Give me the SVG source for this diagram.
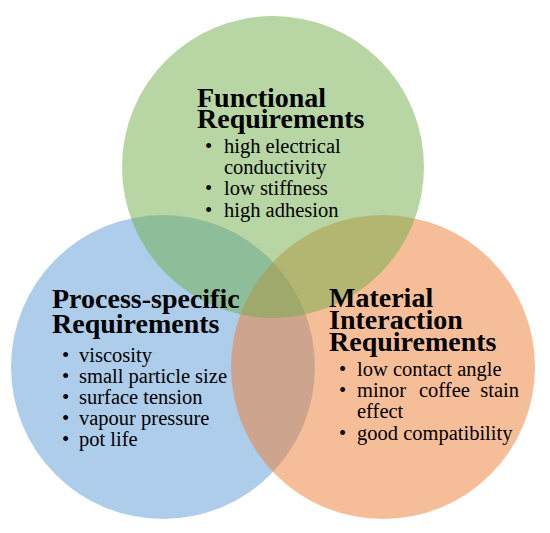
<svg xmlns="http://www.w3.org/2000/svg" width="550" height="533" viewBox="0 0 550 533">
<style>
.c{opacity:0.5}
.t{font-family:"Liberation Serif","Times New Roman",serif;font-weight:bold;font-size:28px;fill:#000}
.b{font-family:"Liberation Serif","Times New Roman",serif;font-size:20.5px;fill:#000}
</style>
<rect width="550" height="533" fill="#fff"/>
<g id="process">
<circle class="c" cx="163" cy="367" r="152" fill="#5B9BD5"/>
</g>
<g id="material">
<circle class="c" cx="383" cy="367" r="152" fill="#ED7D31"/>
</g>
<g id="functional">
<circle class="c" cx="273" cy="167" r="151" fill="#70AD47"/>
</g>
<g id="functional-text">
<text class="t" x="197" y="107">Functional</text>
<text class="t" x="197" y="128">Requirements</text>
<text class="b" x="205" y="153">•</text><text class="b" x="224" y="153">high electrical</text>
<text class="b" x="224" y="174">conductivity</text>
<text class="b" x="205" y="195">•</text><text class="b" x="224" y="195">low stiffness</text>
<text class="b" x="205" y="217">•</text><text class="b" x="224" y="217">high adhesion</text>
</g>
<g id="process-text">
<text class="t" x="52" y="308">Process-specific</text>
<text class="t" x="52" y="333">Requirements</text>
<text class="b" x="62" y="362">•</text><text class="b" x="79" y="362">viscosity</text>
<text class="b" x="62" y="383">•</text><text class="b" x="79" y="383">small particle size</text>
<text class="b" x="62" y="404">•</text><text class="b" x="79" y="404">surface tension</text>
<text class="b" x="62" y="425">•</text><text class="b" x="79" y="425">vapour pressure</text>
<text class="b" x="62" y="446">•</text><text class="b" x="79" y="446">pot life</text>
</g>
<g id="material-text">
<text class="t" x="329" y="307">Material</text>
<text class="t" x="329" y="329">Interaction</text>
<text class="t" x="329" y="351">Requirements</text>
<text class="b" x="339" y="376">•</text><text class="b" x="357" y="376">low contact angle</text>
<text class="b" x="339" y="397">•</text><text class="b" x="357" y="397">minor</text><text class="b" x="419" y="397">coffee</text><text class="b" x="519" y="397" text-anchor="end">stain</text>
<text class="b" x="357" y="418">effect</text>
<text class="b" x="339" y="440">•</text><text class="b" x="357" y="440">good compatibility</text>
</g>
<g id="connectors"></g>
</svg>
